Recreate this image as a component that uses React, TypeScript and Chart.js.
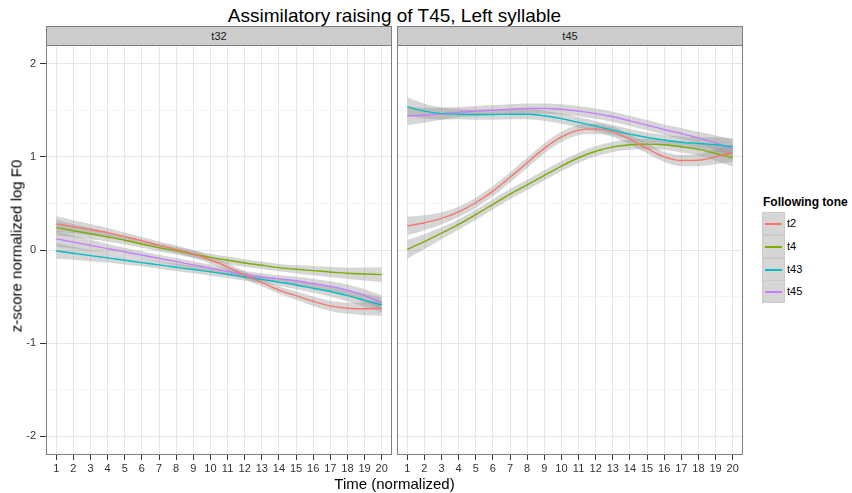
import React, { useEffect, useRef } from "react";
import { Chart, registerables } from "chart.js";

Chart.register(...registerables);

// ---------- data ----------
const timePoints = [1, 2, 3, 4, 5, 6, 7, 8, 9, 10, 11, 12, 13, 14, 15, 16, 17, 18, 19, 20];
const xTickLabels = ["1", "2", "3", "4", "5", "6", "7", "8", "9", "10", "11", "12", "13", "14", "15", "16", "17", "18", "19", "20"];
const yTickValues = [-2, -1.5, -1, -0.5, 0, 0.5, 1, 1.5, 2];
const yTickLabels = ["-2", "", "-1", "", "0", "", "1", "", "2"];

const panelNames = ["t32", "t45"];
const tones = ["t2", "t4", "t43", "t45"];
const toneColors = ["#F8766D", "#7CAE00", "#00BFC4", "#C77CFF"];

// panel t32
const t32_t2 = [0.28, 0.25, 0.22, 0.186, 0.143, 0.1, 0.05, 0.007, -0.043, -0.107, -0.18, -0.27, -0.35, -0.43, -0.49, -0.55, -0.6, -0.625, -0.63, -0.625];
const t32_t4 = [0.24, 0.207, 0.175, 0.14, 0.104, 0.064, 0.025, -0.007, -0.046, -0.079, -0.11, -0.139, -0.164, -0.189, -0.207, -0.221, -0.236, -0.25, -0.257, -0.264];
const t32_t43 = [-0.01, -0.035, -0.06, -0.085, -0.11, -0.135, -0.16, -0.185, -0.21, -0.235, -0.26, -0.29, -0.315, -0.345, -0.375, -0.41, -0.445, -0.49, -0.54, -0.59];
const t32_t45 = [0.12, 0.085, 0.05, 0.015, -0.02, -0.055, -0.09, -0.125, -0.16, -0.195, -0.23, -0.265, -0.29, -0.31, -0.33, -0.36, -0.39, -0.43, -0.49, -0.565];
const t32_se = [0.085, 0.07, 0.06, 0.05, 0.045, 0.04, 0.04, 0.04, 0.04, 0.04, 0.04, 0.04, 0.04, 0.04, 0.045, 0.05, 0.055, 0.06, 0.07, 0.08];

// panel t45
const t45_t2 = [0.257, 0.293, 0.34, 0.41, 0.507, 0.632, 0.78, 0.936, 1.09, 1.214, 1.286, 1.3, 1.268, 1.186, 1.09, 1.0, 0.96, 0.964, 1.0, 1.046];
const t45_t4 = [0.007, 0.09, 0.18, 0.275, 0.38, 0.49, 0.6, 0.7, 0.8, 0.9, 0.99, 1.06, 1.107, 1.13, 1.136, 1.13, 1.107, 1.08, 1.036, 0.99];
const t45_t43 = [1.536, 1.49, 1.464, 1.457, 1.454, 1.454, 1.457, 1.457, 1.44, 1.41, 1.37, 1.33, 1.286, 1.243, 1.207, 1.18, 1.157, 1.143, 1.13, 1.107];
const t45_t45 = [1.44, 1.446, 1.464, 1.48, 1.49, 1.5, 1.51, 1.518, 1.518, 1.51, 1.49, 1.464, 1.43, 1.386, 1.34, 1.293, 1.25, 1.204, 1.15, 1.09];
const t45_se = [0.1, 0.08, 0.065, 0.055, 0.055, 0.055, 0.055, 0.055, 0.055, 0.055, 0.055, 0.055, 0.055, 0.055, 0.055, 0.055, 0.06, 0.065, 0.08, 0.095];

const FONT = '"Liberation Sans", Arial, Helvetica, sans-serif';
const BAND = "rgba(153,153,153,0.4)";
const MAJOR = "#E5E5E5";
const MINOR = "#F3F3F3";
const AXIS_TEXT = "#333333";

const framePlugin = {
  id: "panelFrame",
  afterDraw(chart: any) {
    const { ctx, chartArea: a } = chart;
    ctx.save();
    ctx.strokeStyle = "#7F7F7F";
    ctx.lineWidth = 1;
    const l = Math.round(a.left) + 0.5;
    const t = Math.round(a.top) + 0.5;
    const r = Math.round(a.right) - 0.5;
    const b = Math.round(a.bottom) - 0.5;
    ctx.strokeRect(l, t, r - l, b - t);
    ctx.restore();
  },
};

type PanelProps = {
  values: number[][];
  se: number[];
  left: number;
  width: number;
  padLeft: number;
  padRight: number;
  showY: boolean;
};

const TOP = 40;
const HEIGHT = 440;

function PanelChart({ values, se, left, width, padLeft, padRight, showY }: PanelProps) {
  const ref = useRef<HTMLCanvasElement>(null);
  useEffect(() => {
    if (!ref.current) return;
    const lineSets = values.map((vals, i) => ({
      label: tones[i],
      data: timePoints.map((t, j) => ({ x: t, y: vals[j] })),
      borderColor: toneColors[i],
      borderWidth: 1.4,
      pointRadius: 0,
      fill: false,
      cubicInterpolationMode: "monotone" as const,
    }));
    const bandSets = values.flatMap((vals, i) => [
      {
        label: tones[i] + " lower",
        data: timePoints.map((t, j) => ({ x: t, y: vals[j] - se[j] })),
        borderColor: "rgba(0,0,0,0)",
        borderWidth: 1,
        pointRadius: 0,
        fill: false,
        cubicInterpolationMode: "monotone" as const,
      },
      {
        label: tones[i] + " upper",
        data: timePoints.map((t, j) => ({ x: t, y: vals[j] + se[j] })),
        borderColor: "rgba(0,0,0,0)",
        backgroundColor: BAND,
        borderWidth: 1,
        pointRadius: 0,
        fill: "-1",
        cubicInterpolationMode: "monotone" as const,
      },
    ]);
    const chart = new Chart(ref.current, {
      type: "line",
      data: { datasets: [...lineSets, ...bandSets] as any },
      plugins: [framePlugin],
      options: {
        animation: false,
        responsive: false,
        maintainAspectRatio: false,
        devicePixelRatio: 1,
        layout: { padding: { top: 5, left: padLeft, right: padRight, bottom: 0 } },
        plugins: {
          legend: { display: false },
          tooltip: { enabled: false },
          title: { display: false },
          filler: { drawTime: "beforeDatasetsDraw" },
        } as any,
        scales: {
          x: {
            type: "linear",
            min: 0.4,
            max: 20.6,
            afterBuildTicks: (s: any) => {
              s.ticks = timePoints.map((v) => ({ value: v }));
            },
            afterFit: (s: any) => {
              s.height = 25;
              s.paddingLeft = 0;
              s.paddingRight = 0;
              s.paddingTop = 0;
              s.paddingBottom = 0;
            },
            ticks: {
              autoSkip: false,
              maxRotation: 0,
              padding: 2,
              color: AXIS_TEXT,
              font: { family: FONT, size: 11 },
              callback: (v: any) => xTickLabels[timePoints.indexOf(Number(v))] ?? "",
            },
            grid: {
              color: MAJOR,
              lineWidth: 1,
              tickColor: "#333333",
              tickLength: 5,
              drawTicks: true,
            },
            border: { display: false },
          },
          y: {
            type: "linear",
            min: -2.2,
            max: 2.2,
            afterBuildTicks: (s: any) => {
              s.ticks = yTickValues.map((v) => ({ value: v }));
            },
            afterFit: (s: any) => {
              s.width = showY ? 46 : 0;
              s.paddingTop = 0;
              s.paddingBottom = 0;
              s.paddingLeft = 0;
              s.paddingRight = 0;
            },
            ticks: {
              display: showY,
              padding: 4,
              color: AXIS_TEXT,
              font: { family: FONT, size: 11 },
              callback: (v: any) => {
                const k = yTickValues.indexOf(Number(v));
                return k >= 0 ? yTickLabels[k] : "";
              },
            },
            grid: {
              color: (ctx: any) => (Number.isInteger(ctx.tick?.value) ? MAJOR : MINOR),
              lineWidth: 1,
              tickColor: (ctx: any) => (Number.isInteger(ctx.tick?.value) ? "#333333" : "rgba(0,0,0,0)"),
              tickLength: 6,
              drawTicks: showY,
            },
            border: { display: false },
          },
        },
      },
    });
    return () => chart.destroy();
  }, [values, se, left, width, padLeft, padRight, showY]);
  return (
    <div style={{ position: "absolute", left, top: TOP, width, height: HEIGHT }}>
      <canvas ref={ref} width={width} height={HEIGHT} style={{ width, height: HEIGHT, display: "block" }} />
    </div>
  );
}

const t32Values = [t32_t2, t32_t4, t32_t43, t32_t45];
const t45Values = [t45_t2, t45_t4, t45_t43, t45_t45];

function Strip({ label, left, width }: { label: string; left: number; width: number }) {
  return (
    <div
      style={{
        position: "absolute",
        left,
        top: 26,
        width,
        height: 20,
        boxSizing: "border-box",
        background: "#CCCCCC",
        border: "1px solid #7F7F7F",
        fontSize: 11,
        lineHeight: "18px",
        textAlign: "center",
        color: "#1A1A1A",
      }}
    >
      {label}
    </div>
  );
}

export default function App() {
  return (
    <div
      style={{
        position: "fixed",
        left: 0,
        top: 0,
        width: 852,
        height: 493,
        background: "#FFFFFF",
        fontFamily: FONT,
        overflow: "hidden",
      }}
    >
      <div
        style={{
          position: "absolute",
          left: 46,
          top: 6,
          width: 697,
          textAlign: "center",
          fontSize: 19,
          lineHeight: "19px",
          color: "#000",
          whiteSpace: "nowrap",
        }}
      >
        Assimilatory raising of T45, Left syllable
      </div>

      <Strip label={panelNames[0]} left={46} width={346} />
      <Strip label={panelNames[1]} left={397} width={346} />

      <PanelChart values={t32Values} se={t32_se} left={0} width={395} padLeft={0} padRight={3} showY={true} />
      <PanelChart values={t45Values} se={t45_se} left={395} width={351} padLeft={2} padRight={3} showY={false} />

      <div
        style={{
          position: "absolute",
          left: 16,
          top: 246,
          transform: "translate(-50%, -50%) rotate(-90deg)",
          fontSize: 15,
          lineHeight: "15px",
          whiteSpace: "nowrap",
          color: "#000",
        }}
      >
        z-score normalized log F0
      </div>

      <div
        style={{
          position: "absolute",
          left: 46,
          top: 476,
          width: 697,
          textAlign: "center",
          fontSize: 15,
          lineHeight: "15px",
          color: "#000",
          whiteSpace: "nowrap",
        }}
      >
        Time (normalized)
      </div>

      <div
        style={{
          position: "absolute",
          left: 763,
          top: 196,
          fontSize: 12,
          lineHeight: "12px",
          fontWeight: "bold",
          color: "#000",
          whiteSpace: "nowrap",
        }}
      >
        Following tone
      </div>
      {tones.map((t, i) => {
        const top = Math.round(212 + i * 22.75);
        return (
          <div key={t}>
            <div
              style={{
                position: "absolute",
                left: 762,
                top,
                width: 23,
                height: 23,
                boxSizing: "border-box",
                background: "#D6D6D6",
                border: "1px solid #CCCCCC",
              }}
            >
              <div
                style={{
                  position: "absolute",
                  left: 2,
                  top: 10,
                  width: 17,
                  height: 1.5,
                  background: toneColors[i],
                }}
              />
            </div>
            <div
              style={{
                position: "absolute",
                left: 787,
                top: top + 5,
                fontSize: 11,
                lineHeight: "12px",
                color: "#000",
                whiteSpace: "nowrap",
              }}
            >
              {t}
            </div>
          </div>
        );
      })}
    </div>
  );
}
